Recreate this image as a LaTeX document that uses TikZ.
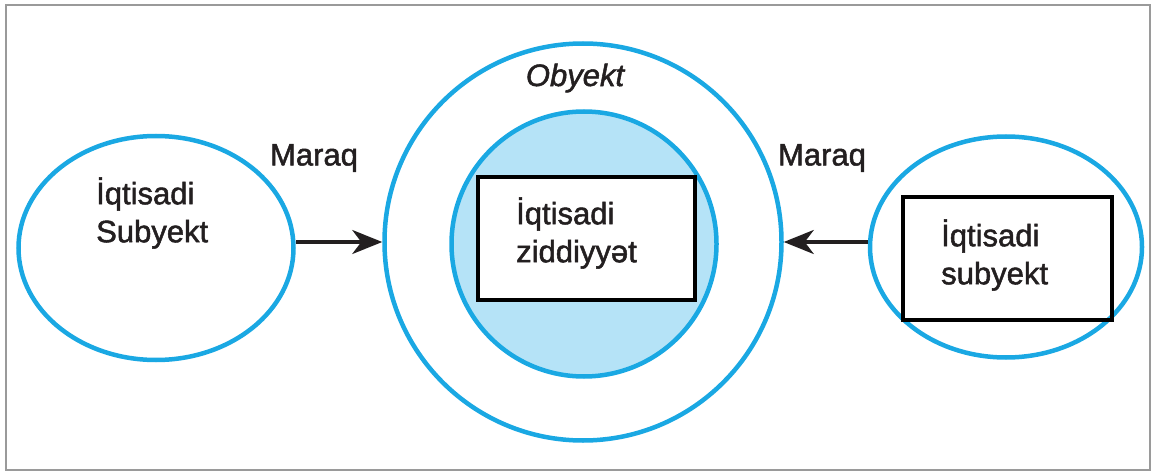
\documentclass[tikz,border=0pt]{standalone}
\usepackage{fontspec}
\setmainfont{Liberation Sans}
\newfontfamily\medfont{Liberation Sans}[FakeBold=1.6]
\usetikzlibrary{shapes.geometric,arrows.meta}
\definecolor{cyanline}{HTML}{1AA8E3}
\definecolor{cyanfill}{HTML}{B5E3F7}
\definecolor{framegray}{HTML}{9A9A9A}
\definecolor{inkdark}{HTML}{231F20}
\begin{document}
\begin{tikzpicture}[x=1pt,y=-1pt,
 blob/.style={draw=cyanline, line width=4.5pt, ellipse, inner sep=0pt},
 boxnode/.style={draw=black, line width=4pt, rectangle, inner sep=0pt},
 lbl/.style={font=\medfont\fontsize{31}{38}\selectfont, align=left, text=inkdark, inner sep=0pt},
 arr/.style={draw=inkdark, line width=3.5pt, -{Stealth[length=30pt,width=24pt,inset=9pt]}}]
\useasboundingbox (0,0) rectangle (1156,473);
\draw[framegray, line width=2.5pt] (6,5) rectangle (1150,470);
\node[blob, minimum width=275pt, minimum height=224pt] (L) at (156,248) {};
\node[blob, circle, minimum size=397pt] (O) at (583,242) {};
\node[blob, circle, fill=cyanfill, minimum size=265pt] (I) at (584,244) {};
\node[boxnode, fill=white, minimum width=217pt, minimum height=123pt] (B) at (586.5,238.5) {};
\node[blob, minimum width=272pt, minimum height=221pt] (R) at (1006,247) {};
\node[boxnode, minimum width=209pt, minimum height=123pt] (RB) at (1007.5,258.5) {};
\node[lbl, anchor=west] (Lt) at (96,213) {İqtisadi\\Subyekt};
\node[lbl, anchor=west] (Bt) at (516,233) {İqtisadi\\ziddiyyət};
\node[lbl, anchor=west] (Rt) at (941,255) {İqtisadi\\subyekt};
\node[lbl] (M1) at (314,158) {Maraq};
\node[lbl] (M2) at (822,158) {Maraq};
\node[lbl, font=\medfont\fontsize{31}{38}\selectfont\itshape] (Ob) at (575,78) {Obyekt};
\draw[arr] (L.east |- O.west) -- (O.west);
\draw[arr] (R.west |- O.east) -- (O.east);
\end{tikzpicture}
\end{document}
